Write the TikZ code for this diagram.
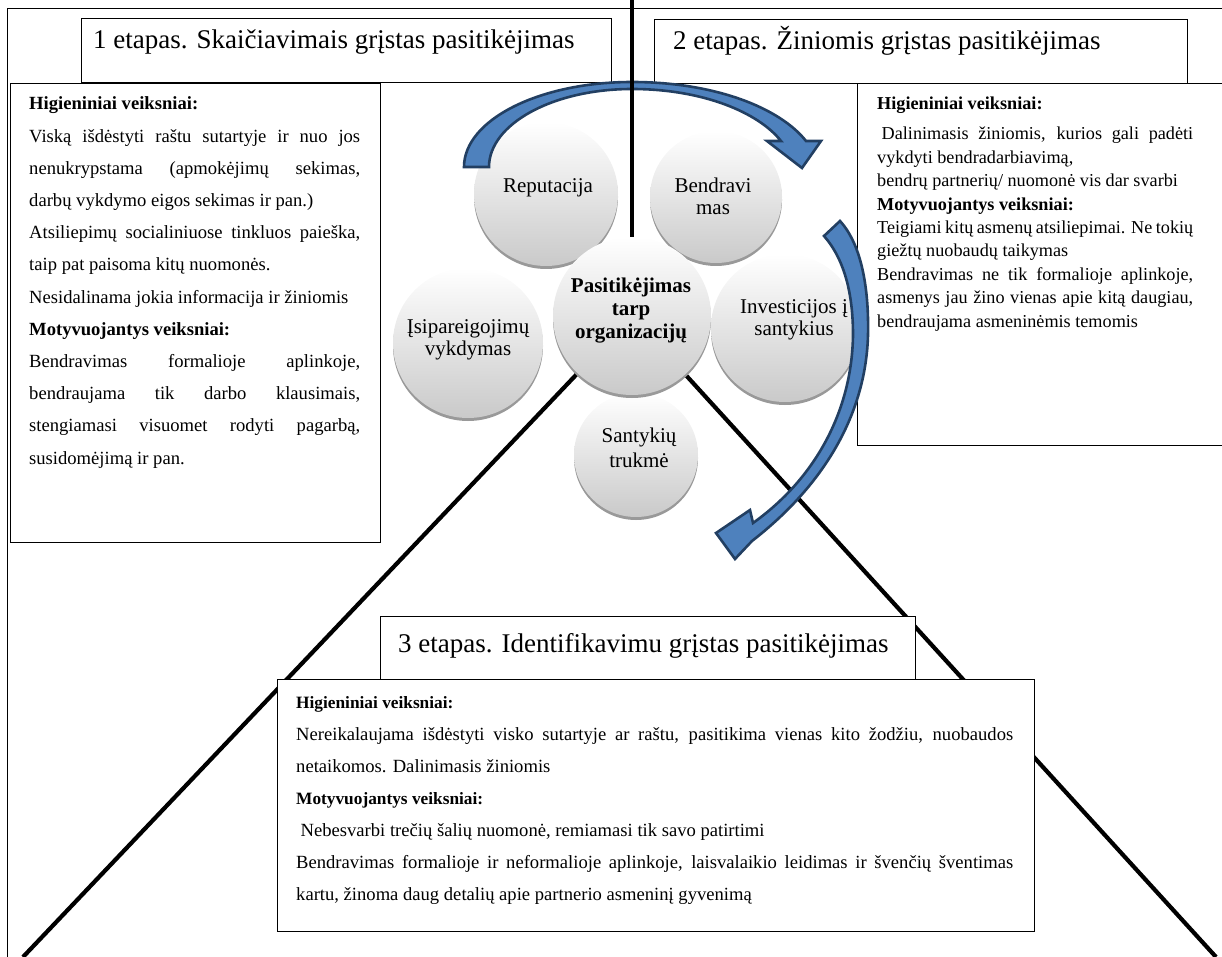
\documentclass[tikz,border=0pt]{standalone}
\usepackage{fontspec}
\setmainfont{Liberation Serif}
\pgfdeclarelayer{bg}
\pgfdeclarelayer{fg}
\pgfsetlayers{bg,main,fg}
\definecolor{arrfill}{HTML}{4E81BD}
\definecolor{arrline}{HTML}{223F62}
\hyphenpenalty=10000
\exhyphenpenalty=10000
\tolerance=10000
\begin{document}
\begin{tikzpicture}[x=1pt,y=-1pt,
  box/.style={draw=black, line width=1.2pt, fill=white, inner sep=0pt, anchor=north west},
  titletext/.style={inner sep=0pt, anchor=base west, font=\fontsize{27}{32}\selectfont},
  bodytext/.style={inner sep=0pt, anchor=base west, align=justify, font=\fontsize{18.6}{32.2}\selectfont},
  circ/.style={circle, inner sep=0pt, draw=none, top color=white, bottom color=gray!42},
  circshadow/.style={fill=gray!80},
  ctext/.style={inner sep=0pt, anchor=base, font=\fontsize{21}{24}\selectfont},
  cbold/.style={inner sep=0pt, anchor=base, font=\fontsize{21}{24}\selectfont\bfseries},
  triline/.style={line width=4.2pt, black},
  vline/.style={line width=4.6pt, black},
  frameline/.style={line width=1pt, black},
  bigarrow/.style={fill=arrfill, draw=arrline, line width=2.6pt, line join=miter}
]
\useasboundingbox (0,0) rectangle (1222,957);
\clip (0,0) rectangle (1222,957);

% ---------- circles (main layer) ----------
\fill[circshadow] (546,197) circle (72);
\node[circ, minimum size=144] (rep) at (546,194) {};
\fill[circshadow] (716,200) circle (66);
\node[circ, minimum size=132] (bend) at (716,197) {};
\fill[circshadow] (785,331) circle (74);
\node[circ, minimum size=148] (inv) at (785,328) {};
\fill[circshadow] (468,346) circle (75);
\node[circ, minimum size=150] (isip) at (468,343) {};
\fill[circshadow] (636,458) circle (62);
\node[circ, minimum size=124] (sant) at (636,455) {};
\fill[circshadow] (632,319) circle (79);
\node[circ, minimum size=158] (cent) at (632,316) {};

\node[ctext] (repT) at (548,193) {Reputacija};
\node[ctext] (bendT1) at (713,193) {Bendravi};
\node[ctext] (bendT2) at (713,215) {mas};
\node[cbold] (centT1) at (631,293) {Pasitikėjimas};
\node[cbold] (centT2) at (631,316) {tarp};
\node[cbold] (centT3) at (631,338) {organizacijų};
\node[ctext] (invT1) at (794,313) {Investicijos į};
\node[ctext] (invT2) at (794,335) {santykius};
\node[ctext] (isipT1) at (468,333) {Įsipareigojimų};
\node[ctext] (isipT2) at (468,355) {vykdymas};
\node[ctext] (santT1) at (639,442) {Santykių};
\node[ctext] (santT2) at (639,467) {trukmė};

% ---------- background layer ----------
\begin{pgfonlayer}{bg}
\coordinate (fbl) at (7,957);
\coordinate (ftl) at (7,9);
\coordinate (ftr) at (1222,9);
\draw[frameline] (fbl) -- (ftl) -- (ftr);

\node[box, minimum width=530, minimum height=64] (t1box) at (81,18) {};
\node[titletext] (t1) at (93,49) {1 etapas. Skaičiavimais grįstas pasitikėjimas};
\node[box, minimum width=533, minimum height=64] (t2box) at (654,19) {};
\node[titletext] (t2) at (673,50) {2 etapas. Žiniomis grįstas pasitikėjimas};

\node[box, minimum width=370, minimum height=459] (lbox) at (10,83) {};
\node[bodytext, text width=331] (ltext) at (29,110) {%
{\bfseries Higieniniai veiksniai:}\par
Viską išdėstyti raštu sutartyje ir nuo jos\linebreak nenukrypstama (apmokėjimų sekimas,\linebreak darbų vykdymo eigos sekimas ir pan.)\par
Atsiliepimų socialiniuose tinkluos paieška,\linebreak taip pat paisoma kitų nuomonės.\par
Nesidalinama jokia informacija ir žiniomis\par
{\bfseries Motyvuojantys veiksniai:}\par
Bendravimas formalioje aplinkoje,\linebreak bendraujama tik darbo klausimais,\linebreak stengiamasi visuomet rodyti pagarbą,\linebreak susidomėjimą ir pan.};

\node[box, minimum width=380, minimum height=362] (rbox) at (857,83) {};
\node[bodytext, text width=316, font=\fontsize{18.2}{23.4}\selectfont] (rtext) at (877,110) {%
{\bfseries Higieniniai veiksniai:}\par\vspace{6.6pt}
\hspace*{4.5pt}Dalinimasis žiniomis, kurios gali padėti\linebreak vykdyti bendradarbiavimą,\par
bendrų partnerių/ nuomonė vis dar svarbi\par
{\bfseries Motyvuojantys veiksniai:}\par
Teigiami kitų asmenų atsiliepimai. Ne tokių\linebreak giežtų nuobaudų taikymas\par
Bendravimas ne tik formalioje aplinkoje,\linebreak asmenys jau žino vienas apie kitą daugiau,\linebreak bendraujama asmeninėmis temomis};

\coordinate (bl) at (23,957);
\coordinate (br) at (1216,957);
\draw[triline] (cent) -- (bl);
\draw[triline] (cent) -- (br);

\node[box, minimum width=535, minimum height=63] (t3box) at (380,616) {};
\node[titletext] (t3) at (398,652) {3 etapas. Identifikavimu grįstas pasitikėjimas};
\node[box, minimum width=757, minimum height=252] (bbox) at (277,679) {};
\node[bodytext, text width=717, font=\fontsize{18.6}{32}\selectfont] (btext) at (296,708) {%
{\bfseries\fontsize{17.3}{32}\selectfont Higieniniai veiksniai:}\par
Nereikalaujama išdėstyti visko sutartyje ar raštu, pasitikima vienas kito žodžiu, nuobaudos\linebreak netaikomos. Dalinimasis žiniomis\par
{\bfseries\fontsize{17.3}{32}\selectfont Motyvuojantys veiksniai:}\par
\hspace*{4.5pt}Nebesvarbi trečių šalių nuomonė, remiamasi tik savo patirtimi\par
Bendravimas formalioje ir neformalioje aplinkoje, laisvalaikio leidimas ir švenčių šventimas\linebreak kartu, žinoma daug detalių apie partnerio asmeninį gyvenimą};
\end{pgfonlayer}

% ---------- foreground layer ----------
\begin{pgfonlayer}{fg}
\draw[bigarrow] (464,167) .. controls (464,120) and (539,82) .. (632,82)
  .. controls (715,82) and (780,108) .. (806,141)
  -- (821,141) -- (802,168) -- (767,141) -- (781,141)
  .. controls (758,112) and (702,89) .. (632,89)
  .. controls (553,89) and (489,124) .. (489,167) -- cycle;
\draw[bigarrow] (840,221) .. controls (862,245) and (869,290) .. (868,335)
  .. controls (866,410) and (828,482) .. (752,541)
  -- (735,559) -- (716,533) -- (750,510) -- (753,523)
  .. controls (816,478) and (852,410) .. (853,335)
  .. controls (853,295) and (845,260) .. (824,236) -- cycle;
\coordinate (vtop) at (632,0);
\draw[vline] (vtop) -- (cent.north);
\end{pgfonlayer}
\end{tikzpicture}
\end{document}
